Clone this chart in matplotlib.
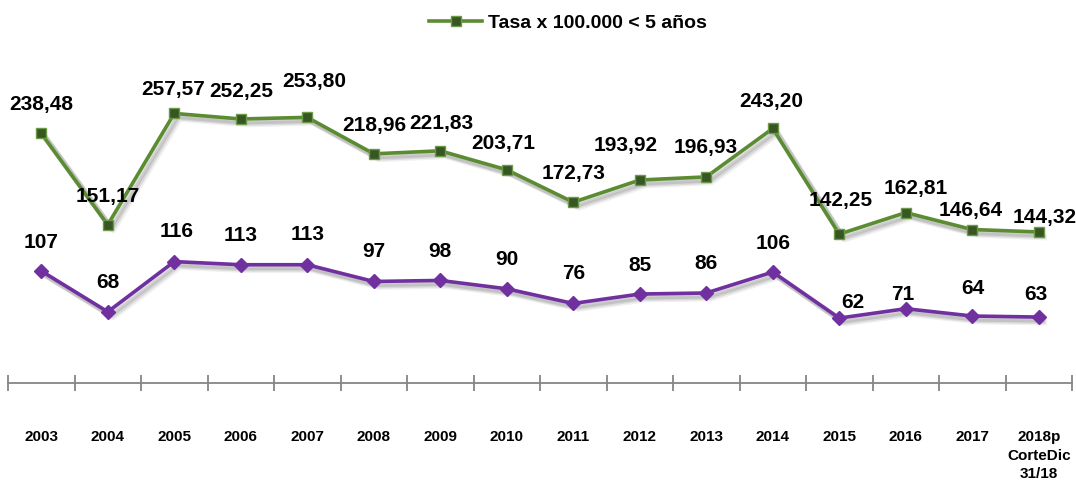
import matplotlib
matplotlib.use("Agg")
import matplotlib.pyplot as plt
import matplotlib.patheffects as pe
import numpy as np

# data
years = ['2003', '2004', '2005', '2006', '2007', '2008', '2009', '2010',
         '2011', '2012', '2013', '2014', '2015', '2016', '2017',
         '2018p\nCorteDic\n31/18']
tasa = [238.48, 151.17, 257.57, 252.25, 253.80, 218.96, 221.83, 203.71,
        172.73, 193.92, 196.93, 243.20, 142.25, 162.81, 146.64, 144.32]
casos = [107, 68, 116, 113, 113, 97, 98, 90, 76, 85, 86, 106, 62, 71, 64, 63]
legend_label = 'Tasa x 100.000 < 5 años'

# label offsets in pixels (dx, dy), as placed in the original
off_tasa = [(0, 29), (0, 28), (-1, 24), (1, 27), (7, 36), (1, 28), (1, 27), (-3, 26),
            (0, 29), (-14, 35), (-1, 29), (-1, 27), (1, 34), (10, 24), (-2, 19), (6, 14)]
off_casos = [(0, 29), (0, 29), (2, 30), (0, 29), (0, 30), (0, 30), (0, 29), (0, 29),
             (0, 30), (0, 29), (0, 29), (0, 29), (14, 16), (-3, 14), (1, 28), (-3, 23)]

GREEN = '#5B8C32'
GREEN_DARK = '#375623'
PURPLE = '#7030A0'
GRAY = '#868686'

plt.rcParams['font.family'] = ['Liberation Sans', 'DejaVu Sans']

fig = plt.figure(figsize=(10.76, 4.87), dpi=100)
ax = fig.add_axes([8 / 1076, 104 / 487, 1064 / 1076, 314 / 487])

x = np.arange(len(years))

# soft drop shadow under the lines
for offs, a in [((3, -3), 0.12), ((2, -2), 0.15), ((4, -4), 0.08)]:
    sh = [pe.SimpleLineShadow(offset=offs, shadow_color='#404040', alpha=a)]
    ax.plot(x, tasa, color=GREEN, lw=4, alpha=0, path_effects=sh, zorder=2)
    ax.plot(x, casos, color=PURPLE, lw=4, alpha=0, path_effects=sh, zorder=2)

ax.plot(x, tasa, color=GREEN, lw=2.6, marker='s', ms=7.5, mfc=GREEN_DARK,
        mec='#6A9A45', mew=1.0, label=legend_label, zorder=3)
ax.plot(x, casos, color=PURPLE, lw=2.6, marker='D', ms=7, mfc=PURPLE,
        mec=PURPLE, zorder=3)

for i, v in enumerate(tasa):
    ax.annotate('{:.2f}'.format(v).replace('.', ','), (x[i], v),
                xytext=off_tasa[i], textcoords='offset pixels',
                ha='center', va='center', fontsize=15, fontweight='bold')
for i, v in enumerate(casos):
    ax.annotate(str(v), (x[i], v), xytext=off_casos[i], textcoords='offset pixels',
                ha='center', va='center', fontsize=15, fontweight='bold')

ax.set_xlim(-0.5, len(years) - 0.5)
ax.set_ylim(0, 300)
ax.set_yticks([])
for s in ['left', 'right', 'top']:
    ax.spines[s].set_visible(False)
ax.spines['bottom'].set_color(GRAY)
ax.spines['bottom'].set_linewidth(1.3)

ax.set_xticks(x)
ax.set_xticklabels(years, fontsize=11, fontweight='bold', linespacing=1.4)
ax.tick_params(axis='x', which='major', length=0, pad=34)
ax.set_xticks(np.arange(-0.5, len(years)), minor=True)
ax.tick_params(axis='x', which='minor', direction='inout', length=12,
               width=1.3, color=GRAY)

leg = fig.legend(loc='center', bbox_to_anchor=(568 / 1076, 1 - 23 / 487),
                 frameon=False, prop={'size': 14, 'weight': 'bold'},
                 handlelength=2.7, handletextpad=0.3)

fig.savefig('out.png', dpi=100)
